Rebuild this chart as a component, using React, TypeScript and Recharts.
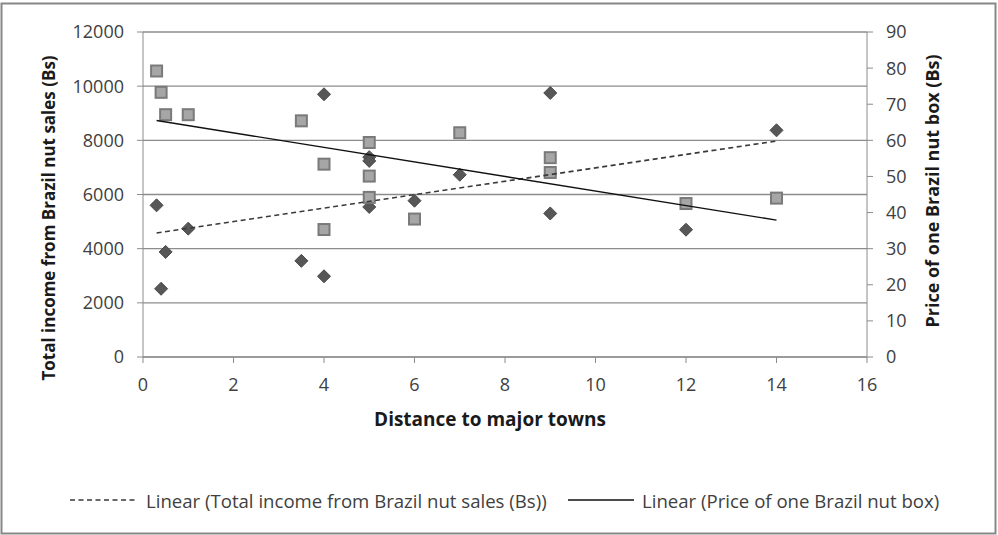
import { CartesianGrid, Scatter, ScatterChart, XAxis, YAxis } from "recharts";

// distance to major towns vs total income (Bs), left axis
const incomePoints = [
  { x: 0.3, y: 5600 },
  { x: 0.4, y: 2520 },
  { x: 0.5, y: 3880 },
  { x: 1, y: 4740 },
  { x: 3.5, y: 3550 },
  { x: 4, y: 9700 },
  { x: 4, y: 2980 },
  { x: 5, y: 7380 },
  { x: 5, y: 7240 },
  { x: 5, y: 5540 },
  { x: 6, y: 5770 },
  { x: 7, y: 6730 },
  { x: 9, y: 9750 },
  { x: 9, y: 5300 },
  { x: 12, y: 4700 },
  { x: 14, y: 8370 },
];

// distance vs price of one box (Bs), right axis
const pricePoints = [
  { x: 0.3, y: 79.2 },
  { x: 0.4, y: 73.3 },
  { x: 0.5, y: 67.1 },
  { x: 1, y: 67.1 },
  { x: 3.5, y: 65.4 },
  { x: 4, y: 53.4 },
  { x: 4, y: 35.3 },
  { x: 5, y: 59.4 },
  { x: 5, y: 50.1 },
  { x: 5, y: 44.2 },
  { x: 6, y: 38.2 },
  { x: 7, y: 62.1 },
  { x: 9, y: 55.2 },
  { x: 9, y: 51.1 },
  { x: 12, y: 42.5 },
  { x: 14, y: 44.0 },
];

// trendline end points
const incomeTrend = [
  { x: 0.3, y: 4580 },
  { x: 14, y: 7975 },
];
const priceTrend = [
  { x: 0.3, y: 65.5 },
  { x: 14, y: 37.9 },
];

const xTicks = [0, 2, 4, 6, 8, 10, 12, 14, 16];
const incomeTicks = [0, 2000, 4000, 6000, 8000, 10000, 12000];
const priceTicks = [0, 10, 20, 30, 40, 50, 60, 70, 80, 90];

const FONT = "'Open Sans', 'Noto Sans', sans-serif";
const AXIS = "#8c8c8c";
const tickStyle = { fontSize: 18, fill: "#404040", fontFamily: FONT };

const Diamond = (p: any) => {
  const { cx, cy } = p;
  const r = 6.5;
  return (
    <path
      d={`M${cx},${cy - r}L${cx + r},${cy}L${cx},${cy + r}L${cx - r},${cy}Z`}
      fill="#575757"
      stroke="#494949"
      strokeWidth={1}
    />
  );
};

const Square = (p: any) => {
  const { cx, cy } = p;
  return <rect x={cx - 5.5} y={cy - 5.5} width={11} height={11} fill="#a6a6a6" stroke="#7a7a7a" strokeWidth={2} />;
};

const NoDot = () => <g />;

export default function App() {
  return (
    <div style={{ position: "absolute", left: 0, top: 0, width: 998, height: 535, background: "#fff" }}>
      <ScatterChart width={998} height={535} margin={{ top: 32, right: 0, bottom: 0, left: 0 }}>
        <CartesianGrid vertical={false} stroke={AXIS} strokeWidth={1.3} yAxisId="income" />
        <XAxis
          type="number"
          dataKey="x"
          domain={[0, 16]}
          ticks={xTicks}
          height={178}
          stroke={AXIS}
          tickSize={6}
          tickMargin={15}
          tick={tickStyle}
          interval={0}
        />
        <YAxis
          yAxisId="income"
          type="number"
          dataKey="y"
          domain={[0, 12000]}
          ticks={incomeTicks}
          width={143}
          stroke={AXIS}
          tickSize={6}
          tickMargin={13}
          tick={tickStyle}
          interval={0}
        />
        <YAxis
          yAxisId="price"
          orientation="right"
          type="number"
          dataKey="y"
          domain={[0, 90]}
          ticks={priceTicks}
          width={131}
          stroke={AXIS}
          tickSize={6}
          tickMargin={13}
          tick={tickStyle}
          interval={0}
        />
        <Scatter yAxisId="income" data={incomePoints} shape={Diamond} isAnimationActive={false} />
        <Scatter yAxisId="price" data={pricePoints} shape={Square} isAnimationActive={false} />
        <Scatter
          yAxisId="income"
          data={incomeTrend}
          shape={NoDot}
          line={{ stroke: "#3a3a3a", strokeWidth: 1.6, strokeDasharray: "5 3.5" }}
          isAnimationActive={false}
        />
        <Scatter
          yAxisId="price"
          data={priceTrend}
          shape={NoDot}
          line={{ stroke: "#111", strokeWidth: 1.4 }}
          isAnimationActive={false}
        />
      </ScatterChart>

      <svg
        width={998}
        height={535}
        style={{ position: "absolute", left: 0, top: 0, pointerEvents: "none" }}
        fontFamily={FONT}
      >
        <rect x={1.5} y={3.5} width={994} height={530} fill="none" stroke="#878787" strokeWidth={2} />
        <text
          transform="translate(48,218) rotate(-90)"
          textAnchor="middle"
          dominantBaseline="central"
          fontSize={17}
          fontWeight="bold"
          fill="#1a1a1a"
        >
          Total income from Brazil nut sales (Bs)
        </text>
        <text
          transform="translate(932,191) rotate(-90)"
          textAnchor="middle"
          dominantBaseline="central"
          fontSize={18}
          fontWeight="bold"
          fill="#1a1a1a"
        >
          Price of one Brazil nut box (Bs)
        </text>
        <text x={490} y={419} textAnchor="middle" dominantBaseline="central" fontSize={19} fontWeight="bold" fill="#1a1a1a">
          Distance to major towns
        </text>

        <line x1={70} y1={500} x2={138} y2={500} stroke="#3a3a3a" strokeWidth={1.6} strokeDasharray="5 3.5" />
        <text x={146} y={500} dominantBaseline="central" fontSize={18.6} fill="#404040">
          Linear (Total income from Brazil nut sales (Bs))
        </text>
        <line x1={568} y1={500} x2={634} y2={500} stroke="#111" strokeWidth={1.4} />
        <text x={642} y={500} dominantBaseline="central" fontSize={18.6} fill="#404040">
          Linear (Price of one Brazil nut box)
        </text>
      </svg>
    </div>
  );
}
